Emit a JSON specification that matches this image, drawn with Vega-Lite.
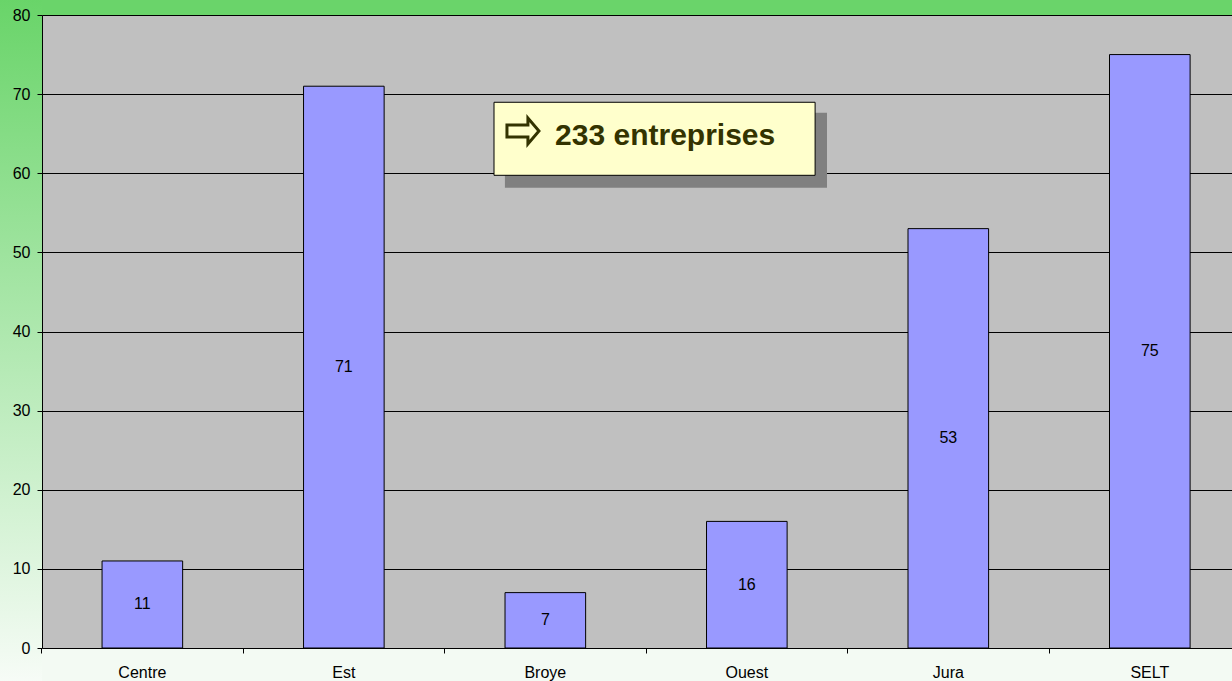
{
  "$schema": "https://vega.github.io/schema/vega-lite/v6.json",
  "width": 1190,
  "height": 633,
  "autosize": "none",
  "padding": {"left": 42, "top": 15, "right": 0, "bottom": 33},
  "background": "#F4FAF4",
  "config": {
    "font": "Liberation Sans",
    "view": {"fill": "#C0C0C0", "stroke": null}
  },
  "data": {
    "values": [
      {"region": "Centre", "n": 11},
      {"region": "Est", "n": 71},
      {"region": "Broye", "n": 7},
      {"region": "Ouest", "n": 16},
      {"region": "Jura", "n": 53},
      {"region": "SELT", "n": 75}
    ]
  },
  "layer": [
    {
      "data": {"values": [{}]},
      "mark": {
        "type": "rect",
        "fill": {
          "gradient": "linear", "x1": 0, "y1": 0, "x2": 0, "y2": 1,
          "stops": [{"offset": 0, "color": "#68D468"}, {"offset": 1, "color": "#F7FCF7"}]
        }
      },
      "encoding": {
        "x": {"datum": -0.3, "type": "quantitative", "scale": {"domain": [0, 6], "nice": false, "zero": false}, "axis": null},
        "x2": {"datum": 0},
        "y": {
          "datum": 82.5, "type": "quantitative",
          "scale": {"domain": [0, 80], "nice": false, "zero": false},
          "axis": {
            "orient": "left", "title": null, "grid": false, "zindex": 1,
            "values": [0, 10, 20, 30, 40, 50, 60, 70, 80],
            "tickSize": 5, "tickColor": "black", "domainColor": "black",
            "labelFontSize": 16, "labelColor": "black", "labelPadding": 7
          }
        },
        "y2": {"datum": -4.5}
      }
    },
    {
      "data": {"values": [{}]},
      "mark": {"type": "rect", "fill": "#6AD46A"},
      "encoding": {
        "x": {"datum": 0, "type": "quantitative", "scale": {"domain": [0, 6], "nice": false, "zero": false}, "axis": null},
        "x2": {"datum": 6.5},
        "y": {"datum": 82.5, "type": "quantitative", "scale": {"domain": [0, 80], "nice": false, "zero": false}, "axis": null},
        "y2": {"datum": 80}
      }
    },
    {
      "data": {"values": [{}]},
      "mark": {"type": "rect", "fill": "#F3FAF3"},
      "encoding": {
        "x": {"datum": 0, "type": "quantitative", "scale": {"domain": [0, 6], "nice": false, "zero": false}, "axis": null},
        "x2": {"datum": 6.5},
        "y": {"datum": 0, "type": "quantitative", "scale": {"domain": [0, 80], "nice": false, "zero": false}, "axis": null},
        "y2": {"datum": -4.5}
      }
    },
    {
      "mark": {"type": "bar", "fill": "#9999FF", "stroke": "black", "strokeWidth": 1},
      "encoding": {
        "x": {
          "field": "region", "type": "nominal", "sort": null,
          "scale": {"type": "band", "paddingInner": 0.6, "paddingOuter": 0.253, "align": 0.589},
          "axis": {
            "title": null, "labelAngle": 0, "zindex": 1, "bandPosition": -0.75, "grid": false,
            "tickSize": 5, "tickColor": "black", "domainColor": "black",
            "labelFontSize": 16, "labelColor": "black", "labelPadding": 11
          }
        },
        "y": {
          "field": "n", "type": "quantitative",
          "scale": {"domain": [0, 80], "nice": false},
          "axis": {
            "orient": "left", "title": null, "grid": true, "gridColor": "black", "gridOpacity": 1, "gridWidth": 1,
            "labels": false, "ticks": false, "domain": false, "zindex": 0,
            "values": [10, 20, 30, 40, 50, 60, 70, 80]
          }
        }
      }
    },
    {
      "mark": {"type": "text", "fontSize": 16, "color": "black", "baseline": "middle", "align": "center"},
      "encoding": {
        "x": {
          "field": "region", "type": "nominal", "sort": null,
          "scale": {"type": "band", "paddingInner": 0.6, "paddingOuter": 0.253, "align": 0.589},
          "axis": null
        },
        "y": {"field": "n", "type": "quantitative", "scale": {"domain": [0, 160], "nice": false}, "axis": null},
        "text": {"field": "n", "type": "quantitative"}
      }
    },
    {
      "data": {"values": [{}]},
      "mark": {"type": "rect", "fill": "#808080"},
      "encoding": {
        "x": {"datum": 2.334, "type": "quantitative", "scale": {"domain": [0, 6], "nice": false, "zero": false}, "axis": null},
        "x2": {"datum": 3.958},
        "y": {"datum": 67.66, "type": "quantitative", "scale": {"domain": [0, 80], "nice": false, "zero": false}, "axis": null},
        "y2": {"datum": 58.18}
      }
    },
    {
      "data": {"values": [{}]},
      "mark": {"type": "rect", "fill": "#FFFFCC", "stroke": "black", "strokeWidth": 1},
      "encoding": {
        "x": {"datum": 2.279, "type": "quantitative", "scale": {"domain": [0, 6], "nice": false, "zero": false}, "axis": null},
        "x2": {"datum": 3.898},
        "y": {"datum": 68.97, "type": "quantitative", "scale": {"domain": [0, 80], "nice": false, "zero": false}, "axis": null},
        "y2": {"datum": 59.74}
      }
    },
    {
      "data": {"values": [{}]},
      "mark": {
        "type": "point", "filled": true, "opacity": 1, "size": 1024,
        "shape": "M -1 -0.375 L 0.31 -0.375 L 0.31 -0.81 L 1 0 L 0.31 0.81 L 0.31 0.375 L -1 0.375 Z",
        "fill": "#FFFFCC", "stroke": "#333300", "strokeWidth": 3, "strokeJoin": "miter"
      },
      "encoding": {
        "x": {"datum": 2.425, "type": "quantitative", "scale": {"domain": [0, 6], "nice": false, "zero": false}, "axis": null},
        "y": {"datum": 65.34, "type": "quantitative", "scale": {"domain": [0, 80], "nice": false, "zero": false}, "axis": null}
      }
    },
    {
      "data": {"values": [{}]},
      "mark": {
        "type": "text", "text": "233 entreprises", "align": "left", "baseline": "alphabetic",
        "fontSize": 30, "fontWeight": "bold", "color": "#333300"
      },
      "encoding": {
        "x": {"datum": 2.587, "type": "quantitative", "scale": {"domain": [0, 6], "nice": false, "zero": false}, "axis": null},
        "y": {"datum": 63.57, "type": "quantitative", "scale": {"domain": [0, 80], "nice": false, "zero": false}, "axis": null}
      }
    }
  ],
  "resolve": {"scale": {"x": "independent", "y": "independent"}}
}
